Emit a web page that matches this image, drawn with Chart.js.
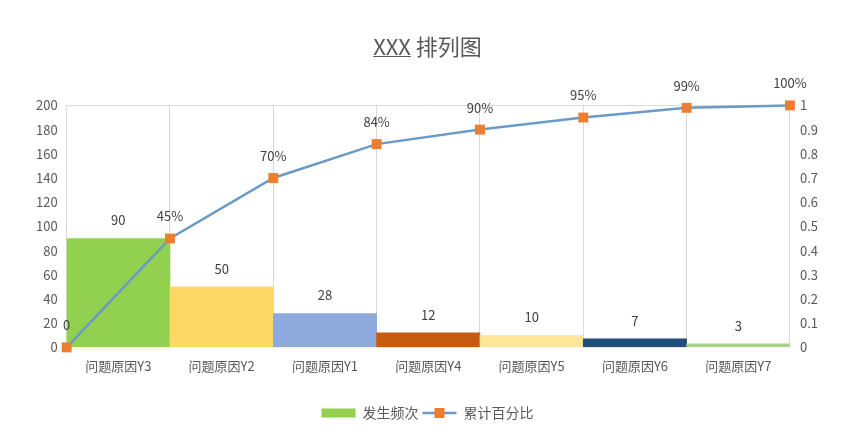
<!DOCTYPE html>
<html>
<head>
<meta charset="utf-8">
<script src="https://cdn.jsdelivr.net/npm/chart.js@4"></script>
<style>
  html, body { margin: 0; padding: 0; background: #fff; }
  #wrap { width: 850px; height: 446px; }
</style>
</head>
<body>
<div id="wrap"><canvas id="pareto"></canvas></div>
<script>
// Data
const categories = ['问题原因Y3', '问题原因Y2', '问题原因Y1', '问题原因Y4', '问题原因Y5', '问题原因Y6', '问题原因Y7'];
const frequency = [90, 50, 28, 12, 10, 7, 3];
const cumulativeSlots = ['', '', '', '', '', '', '', ''];
const cumulative = [0, 0.45, 0.70, 0.84, 0.90, 0.95, 0.99, 1.00];
const barColors = ['#92D050', '#FFD966', '#8EA9DB', '#C55A11', '#FFE699', '#1F4E79', '#A9D18E'];

const textColor = '#595959';
const gridColor = '#D9D9D9';
const lineColor = '#6A9AC6';
const markerColor = '#ED7D31';
const cjkFont = "'Noto Sans CJK SC', 'Noto Sans', sans-serif";

// value labels above bars and line points
const valueLabels = {
  id: 'valueLabels',
  afterDatasetsDraw(chart) {
    const ctx = chart.ctx;
    ctx.save();
    ctx.fillStyle = '#404040';
    ctx.font = '13px ' + cjkFont;
    ctx.textAlign = 'center';
    ctx.textBaseline = 'middle';
    chart.getDatasetMeta(0).data.forEach((bar, i) => {
      ctx.fillText(String(frequency[i]), bar.x, bar.y - 18);
    });
    chart.getDatasetMeta(1).data.forEach((pt, i) => {
      const v = cumulative[i];
      ctx.fillText(v === 0 ? '0' : Math.round(v * 100) + '%', pt.x, pt.y - 22);
    });
    ctx.restore();
  }
};

// underline under "XXX" in the title
const titleUnderline = {
  id: 'titleUnderline',
  afterDraw(chart) {
    const t = chart.titleBlock;
    if (!t) return;
    const ctx = chart.ctx;
    ctx.save();
    ctx.font = '22px ' + cjkFont;
    const full = ctx.measureText('XXX 排列图').width;
    const part = ctx.measureText('XXX').width;
    const cx = (t.left + t.right) / 2;
    const x0 = cx - full / 2;
    const y = t.top + 23;
    ctx.strokeStyle = textColor;
    ctx.lineWidth = 1;
    ctx.beginPath();
    ctx.moveTo(x0, y + 0.5);
    ctx.lineTo(x0 + part, y + 0.5);
    ctx.stroke();
    ctx.restore();
  }
};

// legend marker for the line series (line + square)
const legendMarker = {
  id: 'legendMarker',
  afterDraw(chart) {
    const boxes = chart.legend && chart.legend.legendHitBoxes;
    if (!boxes || !boxes[1]) return;
    const b = boxes[1];
    const ctx = chart.ctx;
    const cy = b.top + b.height / 2;
    ctx.save();
    ctx.strokeStyle = lineColor;
    ctx.lineWidth = 2.5;
    ctx.beginPath();
    ctx.moveTo(b.left, cy);
    ctx.lineTo(b.left + 34, cy);
    ctx.stroke();
    ctx.fillStyle = markerColor;
    ctx.fillRect(b.left + 17 - 5, cy - 5, 10, 10);
    ctx.restore();
  }
};

new Chart(document.getElementById('pareto'), {
  data: {
    labels: categories,
    datasets: [{
      type: 'bar',
      label: '发生频次',
      data: frequency,
      backgroundColor: barColors,
      borderWidth: 0,
      grouped: false,
      barPercentage: 1,
      categoryPercentage: 1,
      xAxisID: 'x',
      yAxisID: 'y',
      order: 2
    }, {
      type: 'line',
      label: '累计百分比',
      data: cumulative,
      borderColor: lineColor,
      borderWidth: 2.5,
      backgroundColor: markerColor,
      pointStyle: 'rect',
      pointRadius: 7,
      pointBorderWidth: 0,
      pointBackgroundColor: markerColor,
      tension: 0,
      fill: false,
      clip: false,
      xAxisID: 'x2',
      yAxisID: 'y1',
      order: 1
    }]
  },
  options: {
    responsive: true,
    maintainAspectRatio: false,
    animation: false,
    layout: { padding: { left: 27, right: 22, top: 33, bottom: 16 } },
    plugins: {
      title: {
        display: true,
        text: 'XXX 排列图',
        color: textColor,
        font: { family: cjkFont, size: 22, weight: 'normal' },
        padding: { top: 0, bottom: 46 }
      },
      legend: {
        position: 'bottom',
        labels: {
          color: textColor,
          font: { family: cjkFont, size: 14 },
          boxWidth: 34,
          boxHeight: 9,
          padding: 4,
          generateLabels(chart) {
            return [{
              text: '发生频次', datasetIndex: 0,
              fillStyle: barColors[0], strokeStyle: barColors[0], lineWidth: 0, fontColor: textColor
            }, {
              text: '累计百分比', datasetIndex: 1,
              fillStyle: 'rgba(0,0,0,0)', strokeStyle: 'rgba(0,0,0,0)', lineWidth: 0, fontColor: textColor
            }];
          }
        }
      },
      tooltip: { enabled: false }
    },
    scales: {
      x: {
        type: 'category',
        offset: true,
        grid: { offset: true, color: gridColor, drawTicks: false },
        border: { display: false },
        ticks: { color: textColor, font: { family: cjkFont, size: 13 }, padding: 11, maxRotation: 0 },
        afterFit(scale) { scale.height += 17; }
      },
      x2: {
        type: 'category',
        labels: cumulativeSlots,
        offset: false,
        display: false
      },
      y: {
        position: 'left',
        min: 0,
        max: 200,
        ticks: { stepSize: 20, color: textColor, font: { family: cjkFont, size: 13 }, padding: 9 },
        grid: {
          drawTicks: false,
          color: (c) => (c.tick && c.tick.value === 200 ? gridColor : 'rgba(0,0,0,0)')
        },
        border: { display: false }
      },
      y1: {
        position: 'right',
        min: 0,
        max: 1,
        ticks: {
          stepSize: 0.1, color: textColor, font: { family: cjkFont, size: 13 }, padding: 10,
          callback: (v) => String(Math.round(v * 10) / 10)
        },
        grid: { drawOnChartArea: false, drawTicks: false },
        border: { display: false }
      }
    }
  },
  plugins: [valueLabels, titleUnderline, legendMarker]
});
</script>
</body>
</html>
